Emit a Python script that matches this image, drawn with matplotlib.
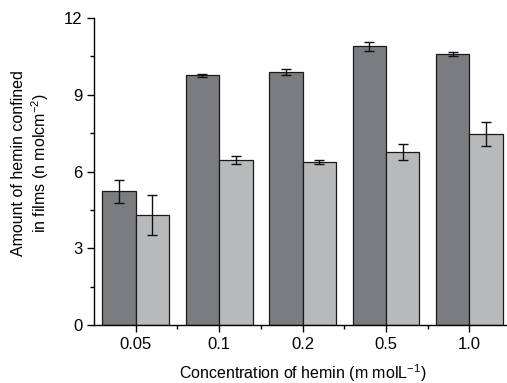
import matplotlib.pyplot as plt
import numpy as np
from matplotlib.ticker import MultipleLocator

plt.rcParams['font.family'] = ['Liberation Sans', 'DejaVu Sans']
plt.rcParams['mathtext.fontset'] = 'custom'
plt.rcParams['mathtext.rm'] = 'Liberation Sans'
plt.rcParams['mathtext.default'] = 'rm'

categories = ['0.05', '0.1', '0.2', '0.5', '1.0']
dark_vals = [5.22, 9.76, 9.89, 10.89, 10.60]
dark_err = [0.45, 0.07, 0.11, 0.19, 0.09]
light_vals = [4.30, 6.45, 6.36, 6.76, 7.47]
light_err = [0.77, 0.17, 0.07, 0.33, 0.47]

fig = plt.figure(figsize=(5.07, 3.83), dpi=100)
ax = fig.add_axes([94 / 507, 58 / 383, 413 / 507, 307 / 383])

x = np.arange(len(categories))
w = 0.4
ax.bar(x - w / 2, dark_vals, w, color='#7b7c80', edgecolor='#1a1a1a', linewidth=0.9,
       yerr=dark_err, capsize=3.5, error_kw=dict(elinewidth=1, capthick=1, ecolor='#111111'))
ax.bar(x + w / 2, light_vals, w, color='#b8b9bb', edgecolor='#1a1a1a', linewidth=0.9,
       yerr=light_err, capsize=3.5, error_kw=dict(elinewidth=1, capthick=1, ecolor='#111111'))

ax.set_xlim(-0.5, 4.45)
ax.set_ylim(0, 12)
ax.set_xticks(x)
ax.set_xticklabels(categories)
ax.set_xticks(x[:-1] + 0.5, minor=True)
ax.yaxis.set_major_locator(MultipleLocator(3))
ax.yaxis.set_minor_locator(MultipleLocator(1.5))
ax.tick_params(which='major', length=5, width=1, labelsize=12, direction='out')
ax.tick_params(which='minor', length=3, width=1, direction='out')

for s in ['top', 'right']:
    ax.spines[s].set_visible(False)
for s in ['left', 'bottom']:
    ax.spines[s].set_linewidth(1)

ax.set_xlabel('Concentration of hemin (m molL$^{-1}$)', fontsize=11.5)
ax.xaxis.set_label_coords(0.505, -0.12)
ax.set_ylabel('Amount of hemin confined\nin films (n molcm$^{-2}$)', fontsize=11.5)
ax.yaxis.set_label_coords(-0.105, 0.528)

fig.savefig('out.png', dpi=100)
